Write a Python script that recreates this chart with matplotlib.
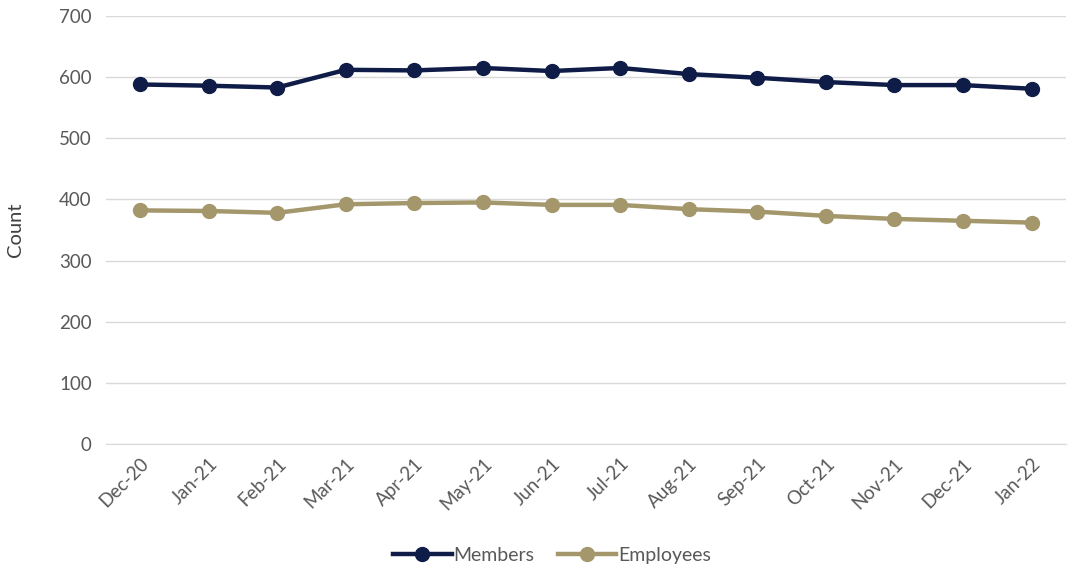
import matplotlib
matplotlib.use("Agg")
import matplotlib.pyplot as plt
import numpy as np

months = ["Dec-20", "Jan-21", "Feb-21", "Mar-21", "Apr-21", "May-21", "Jun-21",
          "Jul-21", "Aug-21", "Sep-21", "Oct-21", "Nov-21", "Dec-21", "Jan-22"]
members = [588, 586, 583, 612, 611, 615, 610, 615, 605, 599, 592, 587, 587, 581]
employees = [382, 381, 378, 392, 394, 395, 391, 391, 384, 380, 373, 368, 365, 362]

plt.rcParams['font.family'] = ['Lato', 'DejaVu Sans']

fig = plt.figure(figsize=(10.68, 5.72), dpi=100)
ax = fig.add_axes([0.099, 0.224, 0.899, 0.748])

x = np.arange(len(months))
ax.plot(x, members, color="#0E1C47", lw=3.2, marker="o", ms=10, label="Members")
ax.plot(x, employees, color="#A4976B", lw=3.2, marker="o", ms=10, label="Employees")

ax.set_xlim(-0.5, len(months) - 0.5)
ax.set_ylim(0, 700)
ax.set_yticks(range(0, 701, 100))
ax.set_xticks(x)
ax.set_xticklabels(months, rotation=45, ha="right", rotation_mode="anchor")
ax.grid(axis="y", color="#D9D9D9", lw=1)
ax.set_axisbelow(True)

for s in ["top", "right", "left"]:
    ax.spines[s].set_visible(False)
ax.spines["bottom"].set_color("#D9D9D9")
ax.tick_params(axis="both", colors="#595959", labelsize=13.5, length=0, pad=10)
ax.tick_params(axis="x", pad=8)

ax.set_ylabel("Count", fontsize=14.5, color="#404040", labelpad=25)

ax.legend(loc="upper center", bbox_to_anchor=(0.465, -0.2), ncol=2, frameon=False,
          fontsize=14, labelcolor="#595959", handlelength=3.0, columnspacing=1.2,
          handletextpad=0.1)

fig.savefig("out.png", dpi=100)
